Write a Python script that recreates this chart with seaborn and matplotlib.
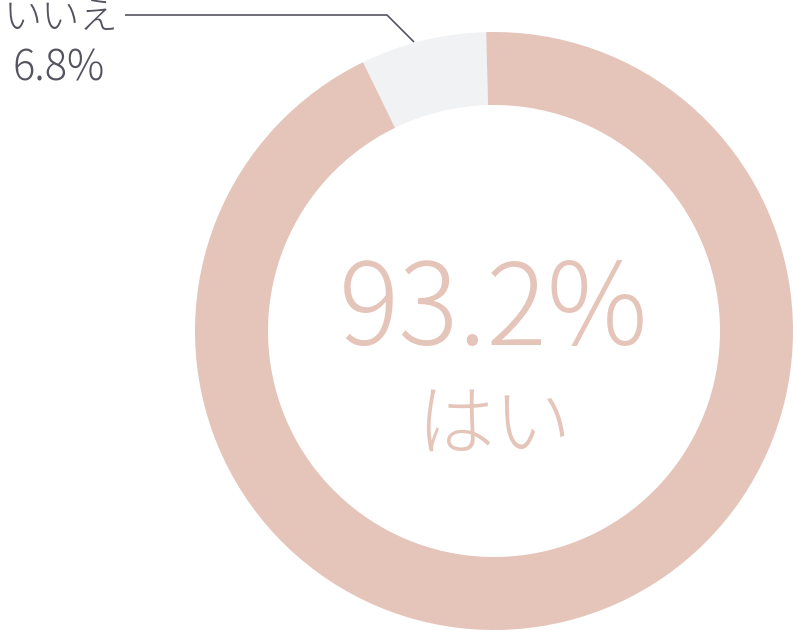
import matplotlib
matplotlib.use("Agg")
import matplotlib.pyplot as plt
import seaborn as sns

# Data
answers = ["いいえ", "はい"]
shares = [6.8, 93.2]
slice_colors = ["#F1F2F4", "#E5C4B9"]

sns.set_theme(style="white")
plt.rcParams["font.family"] = ["Noto Sans CJK JP", "DejaVu Sans"]

W, H = 793, 630
fig = plt.figure(figsize=(W / 100, H / 100), dpi=100)
ax = fig.add_axes([0, 0, 1, 1])

# donut drawn in pixel space (y upward)
cx, cy, r = 494, H - 331, 299
wedges, _ = ax.pie(shares, colors=slice_colors, startangle=91.5, counterclock=True,
                   radius=r, center=(cx, cy),
                   wedgeprops={"width": 73, "linewidth": 0})
ax.set_xlim(0, W)
ax.set_ylim(0, H)
ax.set_aspect("equal")
ax.axis("off")

label_color = "#55535F"
pink = slice_colors[1]

# leader line to the small slice
ax.plot([125, 387, 414], [H - 15, H - 15, H - 42], color=label_color, lw=1.2,
        solid_capstyle="butt")
ax.text(118, H - 18, answers[0], ha="right", va="center", fontsize=27.5,
        color=label_color, fontweight="light")
ax.text(59, H - 69, f"{shares[0]}%", ha="center", va="center", fontsize=30,
        color=label_color, fontweight="light")

# center labels
ax.text(cx, H - 313, f"{shares[1]}%", ha="center", va="center", fontsize=81,
        color=pink, fontweight="light")
ax.text(cx, H - 428, answers[1], ha="center", va="center", fontsize=56,
        color=pink, fontweight="light")

fig.savefig("out.png", dpi=100)
